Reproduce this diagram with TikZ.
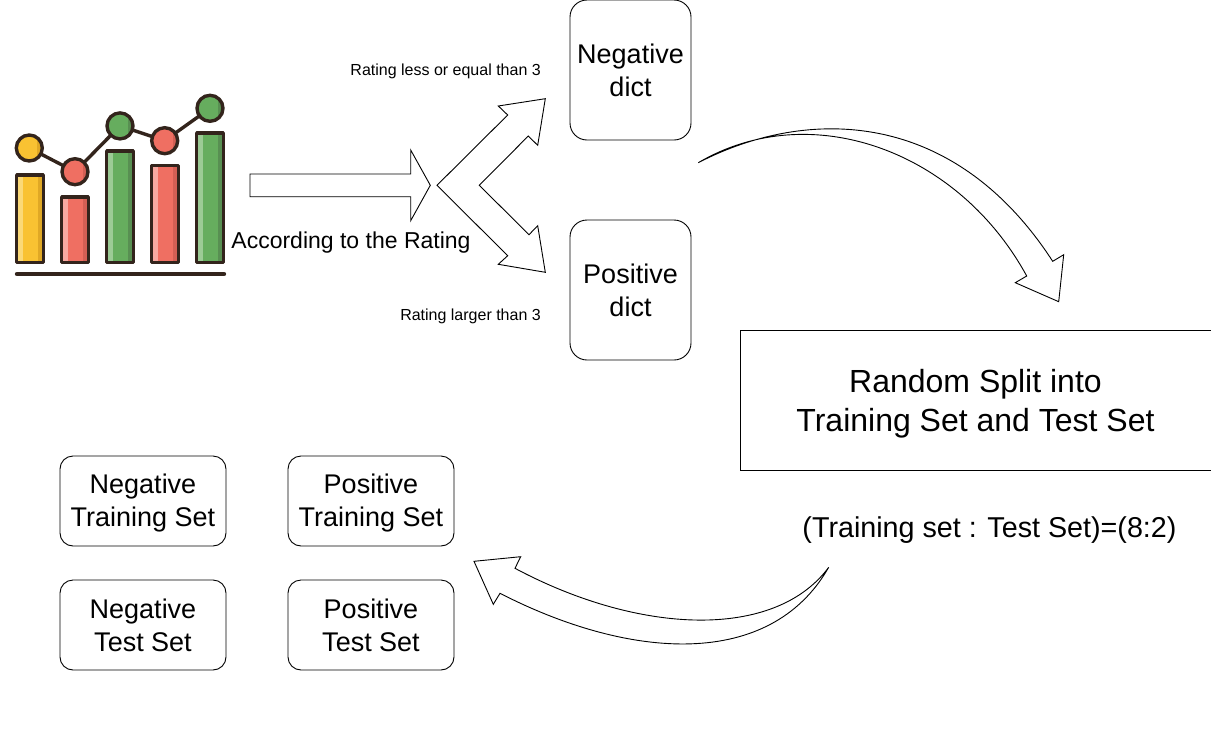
\documentclass[tikz,border=0pt]{standalone}
\usepackage{fontspec}
\setmainfont{Liberation Sans}
\definecolor{ink}{HTML}{33241C}
\definecolor{cy}{HTML}{F9C232}
\definecolor{cyl}{HTML}{FBD977}
\definecolor{cyd}{HTML}{E0A825}
\definecolor{cr}{HTML}{EF6F62}
\definecolor{crl}{HTML}{F6A9A1}
\definecolor{crd}{HTML}{D35F54}
\definecolor{cg}{HTML}{66AD5E}
\definecolor{cgl}{HTML}{9CCB95}
\definecolor{cgd}{HTML}{588F52}
\tikzset{
  x=1pt,y=-1pt,
  dictbox/.style={draw=black,line width=0.9pt,rounded corners=17pt,minimum width=121pt,minimum height=140pt,align=center,inner sep=0pt,font=\fontsize{27}{33}\selectfont},
  setbox/.style={draw=black,line width=0.9pt,rounded corners=13pt,minimum width=166pt,minimum height=90pt,inner sep=0pt},
  settext/.style={align=center,inner sep=0pt,font=\fontsize{27}{33}\selectfont},
  splitbox/.style={draw=black,line width=0.9pt,minimum width=471pt,minimum height=140pt,inner sep=0pt},
  splittext/.style={align=center,inner sep=0pt,font=\fontsize{32}{39}\selectfont},
  smalllabel/.style={anchor=east,inner sep=0pt,font=\fontsize{16}{18}\selectfont},
  midlabel/.style={inner sep=0pt,font=\fontsize{23}{26}\selectfont},
  bigarrow/.style={draw=black,line width=0.9pt,fill=white,line join=miter},
  barstyle/.style={draw=ink,line width=3.4pt,line join=round},
  dotstyle/.style={draw=ink,line width=3.4pt},
}
\newcommand{\chartbar}[5]{%
  \fill[#3] (#1,#2) rectangle (#1+26.6,262.6);
  \fill[#4] (#1,#2) rectangle (#1+6,262.6);
  \fill[#5] (#1+21.6,#2) rectangle (#1+26.6,262.6);
  \draw[barstyle] (#1,#2) rectangle (#1+26.6,262.6);
}
\newcommand{\chartdot}[4]{%
  \fill[#3] (#1,#2) circle (13);
  \begin{scope}
    \clip (#1,#2) circle (13);
    \fill[#4] (#1+8,#2-13) rectangle (#1+13,#2+13);
  \end{scope}
  \draw[dotstyle] (#1,#2) circle (13);
}
\begin{document}
\begin{tikzpicture}
\useasboundingbox (0,0) rectangle (1211,742);

% chart icon
\draw[ink,line width=3.4pt] (29.3,148) -- (75,171.7) -- (120,125.9) -- (164.7,140.7) -- (210,108.3);
\chartbar{16.7}{175}{cy}{cyl}{cyd}
\chartbar{61.7}{197}{cr}{crl}{crd}
\chartbar{106.7}{151}{cg}{cgl}{cgd}
\chartbar{151.7}{165.3}{cr}{crl}{crd}
\chartbar{196.7}{133}{cg}{cgl}{cgd}
\draw[ink,line width=4.4pt,line cap=round] (17,274) -- (224,274);
\chartdot{29.3}{148}{cy}{cyd}
\chartdot{75}{171.7}{cr}{crd}
\chartdot{120}{125.9}{cg}{cgd}
\chartdot{164.7}{140.7}{cr}{crd}
\chartdot{210}{108.3}{cg}{cgd}

% block arrows
\draw[bigarrow] (250,174) -- (410.7,174) -- (410.7,150) -- (430.3,185.3) -- (410.7,220.7) -- (410.7,196.7) -- (250,196.7) -- cycle;
\draw[bigarrow] (437,185.3) -- (507.7,115) -- (498.3,106) -- (545.3,98.7) -- (537.7,145.3) -- (528.3,136) -- (479.3,185.3) -- (529,234.7) -- (537.7,225.7) -- (545.3,272.3) -- (498.3,264.3) -- (507.7,255.7) -- cycle;

% curved arrow, top right
\draw[bigarrow] (698.3,162.7)
  .. controls (808,106) and (954,109) .. (1052.7,261.3)
  -- (1063.7,254.7) -- (1058.7,301.7) -- (1015.3,282.7) -- (1026.7,276)
  .. controls (958,150) and (810,97) .. cycle;

% curved arrow, bottom
\draw[bigarrow] (828.7,567.3)
  .. controls (775,640) and (640,635) .. (515,568.3)
  -- (520.7,556.7) -- (474,561.3) -- (493.3,604.3) -- (500,593.3)
  .. controls (630,660) and (770,670) .. cycle;

% boxes
\node[dictbox] (neg) at (630.5,70) {Negative\\dict};
\node[dictbox] (pos) at (630.5,290) {Positive\\dict};
\node[splitbox,label={[splittext,yshift=-4pt]center:Random Split into\\Training Set and Test Set}] (split) at (975.5,400) {};
\node[setbox,label={[settext,yshift=-2pt]center:Negative\\Training Set}] (negtrain) at (143,501) {};
\node[setbox,label={[settext,yshift=-2pt]center:Positive\\Training Set}] (postrain) at (371,501) {};
\node[setbox,label={[settext]center:Negative\\Test Set}] (negtest) at (143,625) {};
\node[setbox,label={[settext]center:Positive\\Test Set}] (postest) at (371,625) {};

% labels
\node[smalllabel] (lless) at (541,71) {Rating less or equal than 3};
\node[smalllabel] (lmore) at (541,316) {Rating larger than 3};
\node[midlabel] (lacc) at (351,243) {According to the Rating};
\node[inner sep=0pt,font=\fontsize{28.7}{33}\selectfont] (ratio) at (989.5,530) {(Training set : Test Set)=(8:2)};
\end{tikzpicture}
\end{document}
